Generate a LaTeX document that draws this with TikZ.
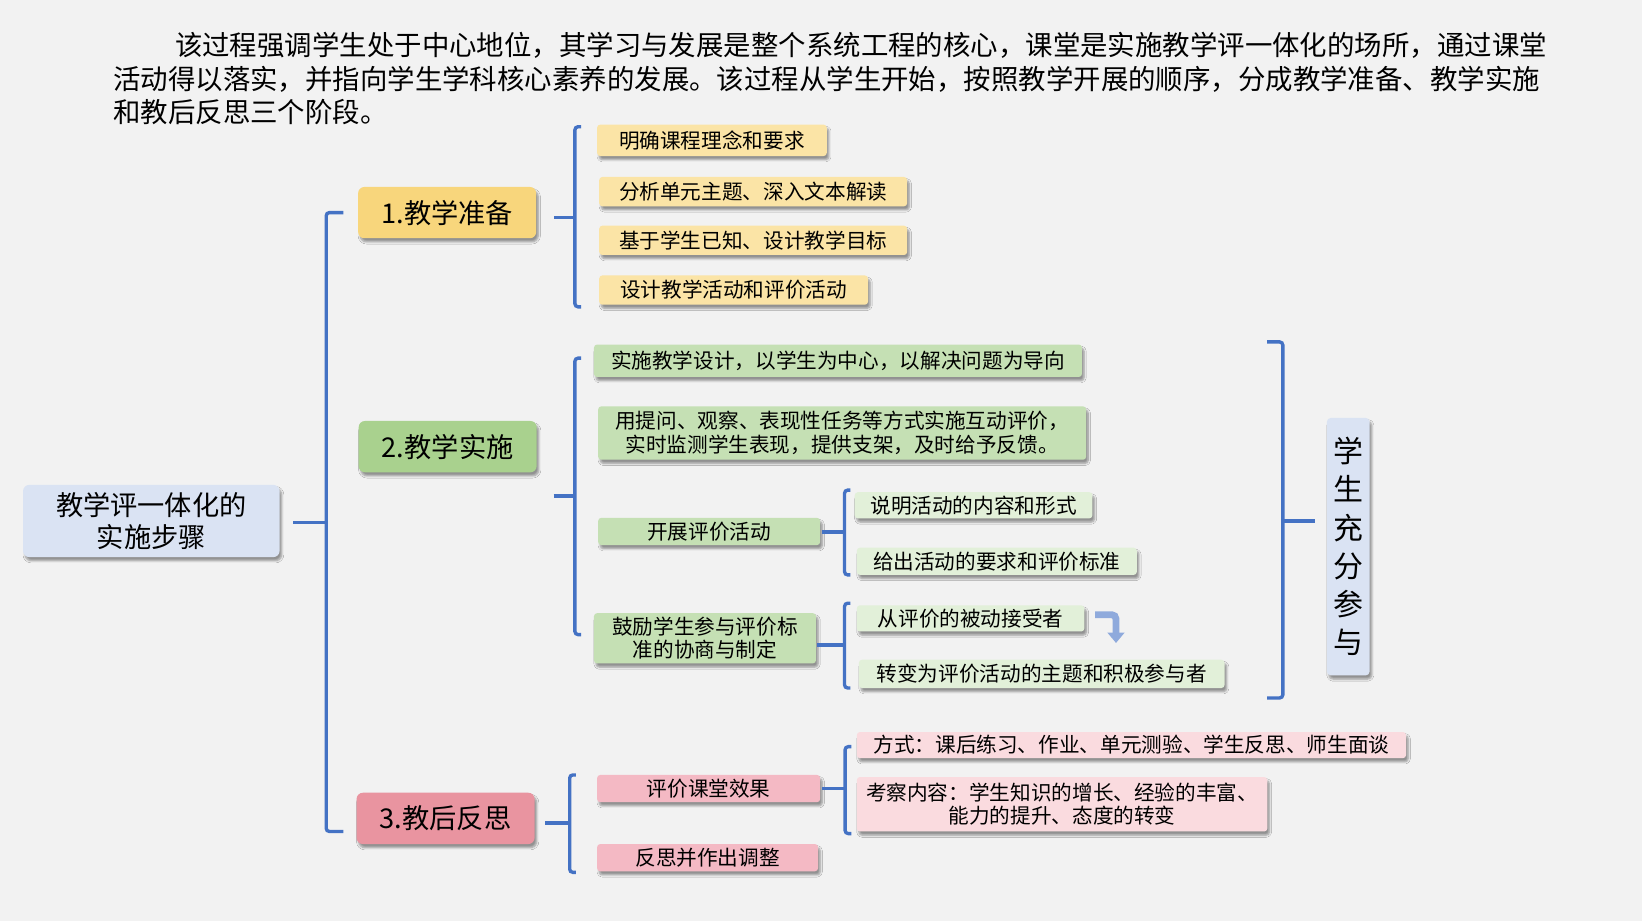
\documentclass[tikz,border=0pt]{standalone}
\usepackage{fontspec}
\setmainfont{Noto Sans CJK SC}
\usetikzlibrary{shadows,shadows.blur,arrows.meta}
\definecolor{bgrey}{RGB}{242,242,242}
\definecolor{linkblue}{RGB}{68,114,196}
\definecolor{lavender}{RGB}{218,227,243}
\definecolor{gold}{RGB}{248,214,124}
\definecolor{lightgold}{RGB}{251,228,166}
\definecolor{leaf}{RGB}{169,209,142}
\definecolor{lightleaf}{RGB}{197,224,180}
\definecolor{paleleaf}{RGB}{226,240,217}
\definecolor{rose}{RGB}{233,148,160}
\definecolor{lightrose}{RGB}{244,185,196}
\definecolor{palerose}{RGB}{250,219,223}
\definecolor{arrowblue}{RGB}{143,170,220}

\begin{document}
\begin{tikzpicture}[x=1pt, y=-1pt,
	softshadow/.style={blur shadow={shadow xshift=2pt, shadow yshift=-3.5pt, shadow blur radius=2pt, shadow blur steps=5, shadow opacity=40}},
	stage/.style={softshadow, rounded corners=6pt, minimum width=170pt, minimum height=49pt, inner sep=0pt, font=\fontsize{26}{31}\selectfont},
	item/.style={softshadow, rounded corners=3pt, anchor=west, minimum height=28pt, inner xsep=16pt, inner ysep=1pt, align=center, font=\fontsize{19.7}{22.3}\selectfont},
	para/.style={anchor=west, inner sep=0pt, font=\fontsize{26.2}{32}\selectfont},
	brak/.style={linkblue, line width=3.2pt, rounded corners=3pt},
	link/.style={linkblue, line width=3.2pt},
	turn/.style={arrowblue, line width=6.5pt, rounded corners=4pt, -{Triangle[width=16pt,length=10pt]}}]

	% background and frame
	\fill[bgrey] (0,0) rectangle (1568,879);
	\useasboundingbox (0,0) rectangle (1568,879);

	% intro text
	\node[para] (l1) at (167,43) {该过程强调学生处于中心地位，其学习与发展是整个系统工程的核心，课堂是实施教学评一体化的场所，通过课堂};
	\node[para] (l2) at (108,76) {活动得以落实，并指向学生学科核心素养的发展。该过程从学生开始，按照教学开展的顺序，分成教学准备、教学实施};
	\node[para] (l3) at (108,107) {和教后反思三个阶段。};

	% root and stages
	\node[stage, fill=lavender, minimum width=245pt, minimum height=69pt, align=center] (main) at (144.5,497.5) {教学评一体化的\\实施步骤};
	\node[stage, fill=gold] (p1) at (427,203) {1.教学准备};
	\node[stage, fill=leaf] (p2) at (427.5,426.5) {2.教学实施};
	\node[stage, fill=rose] (p3) at (425.5,781.5) {3.教后反思};

	% stage 1 items
	\node[item, fill=lightgold, inner xsep=21pt, minimum height=30pt] (a1) at (570,134) {明确课程理念和要求};
	\node[item, fill=lightgold, inner xsep=19pt] (a2) at (572,183) {分析单元主题、深入文本解读};
	\node[item, fill=lightgold, inner xsep=19pt] (a3) at (572,229.5) {基于学生已知、设计教学目标};
	\node[item, fill=lightgold, inner xsep=20pt] (a4) at (572,277) {设计教学活动和评价活动};

	% stage 2 items
	\node[item, fill=lightleaf, minimum width=466pt, minimum height=31pt] (b1) at (567,344.5) {实施教学设计，以学生为中心，以解决问题为导向};
	\node[item, fill=lightleaf, minimum width=466pt, minimum height=51pt] (b2) at (571,413.5) {用提问、观察、表现性任务等方式实施互动评价，\\实时监测学生表现，提供支架，及时给予反馈。};
	\node[item, fill=lightleaf, minimum width=212pt, minimum height=26pt] (b3) at (571,507.5) {开展评价活动};
	\node[item, fill=lightleaf, minimum width=212pt, minimum height=48pt] (b4) at (567,609.5) {鼓励学生参与评价标\\准的协商与制定};

	\node[item, fill=paleleaf, inner xsep=15pt, minimum height=25pt] (c1) at (816,482.5) {说明活动的内容和形式};
	\node[item, fill=paleleaf, inner xsep=15.5pt, minimum height=26pt] (c2) at (818,536) {给出活动的要求和评价标准};
	\node[item, fill=paleleaf, inner xsep=20pt, minimum height=25pt] (c3) at (818,590.5) {从评价的被动接受者};
	\node[item, fill=paleleaf, inner xsep=17pt, minimum height=27pt] (c4) at (820,643.5) {转变为评价活动的主题和积极参与者};

	% stage 3 items
	\node[item, fill=lightrose, minimum width=213pt, minimum height=26pt] (d1) at (570,753) {评价课堂效果};
	\node[item, fill=lightrose, minimum width=211pt, minimum height=26pt] (d2) at (570,819) {反思并作出调整};

	\node[item, fill=palerose, minimum height=25pt] (e1) at (818,711.5) {方式：课后练习、作业、单元测验、学生反思、师生面谈};
	\node[item, fill=palerose, minimum width=392pt, minimum height=52pt, inner xsep=8pt] (e2) at (818,768) {考察内容：学生知识的增长、经验的丰富、\\能力的提升、态度的转变};

	% side note
	\node[stage, fill=lavender, rounded corners=4pt, minimum width=41pt, minimum height=246pt, align=center, font=\fontsize{28.6}{36.5}\selectfont] (side) at (1287.5,522) {学\\生\\充\\分\\参\\与};

	% bracket middles
	\coordinate (m0) at (311.5,499);
	\coordinate (m1) at (549,208);
	\coordinate (m2) at (549,473.5);
	\coordinate (m3) at (544,786);
	\coordinate (m4) at (806.5,508);
	\coordinate (m5) at (806.5,616);
	\coordinate (m6) at (807,753);
	\coordinate (m7) at (1225,497.5);

	% brackets
	\draw[brak] (328,203) -- (311.5,203) -- (311.5,794) -- (328,794);
	\draw[brak] (555,121) -- (549,121) -- (549,293) -- (555,293);
	\draw[brak] (555,342) -- (549,342) -- (549,606) -- (555,606);
	\draw[brak] (550,740) -- (544,740) -- (544,833) -- (550,833);
	\draw[brak] (812,468) -- (806.5,468) -- (806.5,549) -- (812,549);
	\draw[brak] (812,576) -- (806.5,576) -- (806.5,657) -- (812,657);
	\draw[brak] (813,713) -- (807,713) -- (807,796) -- (813,796);
	\draw[brak] (1210,326.5) -- (1225,326.5) -- (1225,666.5) -- (1210,666.5);

	% stubs
	\draw[link, shorten <=13pt] (main.east |- m0) -- (m0);
	\draw[link, shorten <=17pt] (p1.east |- m1) -- (m1);
	\draw[link, shorten <=16pt] (p2.east |- m2) -- (m2);
	\draw[link, shorten <=10pt] (p3.east |- m3) -- (m3);
	\draw[link, shorten <=2pt] (b3.east |- m4) -- (m4);
	\draw[link, shorten <=1pt] (b4.east |- m5) -- (m5);
	\draw[link, shorten <=2pt] (d1.east |- m6) -- (m6);
	\draw[link, shorten >=11pt] (m7) -- (side.west |- m7);

	% turn arrow
	\draw[turn] ([xshift=10pt,yshift=3.5pt]c3.east) -| ([xshift=30pt,yshift=-23.5pt]c3.east);

\end{tikzpicture}
\end{document}
